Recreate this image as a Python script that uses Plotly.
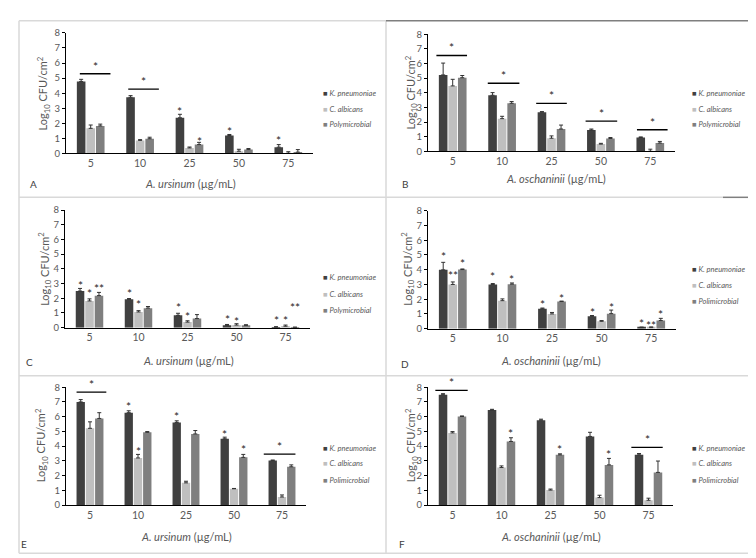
import plotly.graph_objects as go

W, H = 756, 558

conc = ['5', '10', '25', '50', '75']
colors = ['#404040', '#bfbfbf', '#7f7f7f']

# Panel A - A. ursinum
a_kp = [4.78, 3.73, 2.37, 1.19, 0.42]
a_kp_err = [0.14, 0.11, 0.23, 0.07, 0.17]
a_ca = [1.67, 0.87, 0.37, 0.15, 0.02]
a_ca_err = [0.22, 0.05, 0.06, 0.13, 0.10]
a_pm = [1.83, 0.98, 0.59, 0.26, 0.09]
a_pm_err = [0.12, 0.10, 0.15, 0.07, 0.17]

# Panel B - A. oschaninii
b_kp = [5.22, 3.83, 2.67, 1.45, 0.94]
b_kp_err = [0.81, 0.18, 0.04, 0.07, 0.04]
b_ca = [4.47, 2.23, 0.89, 0.49, 0.00]
b_ca_err = [0.45, 0.16, 0.16, 0.05, 0.14]
b_pm = [5.03, 3.28, 1.52, 0.87, 0.56]
b_pm_err = [0.15, 0.12, 0.27, 0.07, 0.11]

# Panel C - A. ursinum
c_kp = [2.49, 1.93, 0.84, 0.16, 0.03]
c_kp_err = [0.18, 0.05, 0.14, 0.06, 0.04]
c_ca = [1.82, 1.07, 0.38, 0.18, 0.10]
c_ca_err = [0.14, 0.09, 0.09, 0.09, 0.08]
c_pm = [2.18, 1.33, 0.62, 0.16, 0.02]
c_pm_err = [0.22, 0.11, 0.27, 0.04, 0.02]

# Panel D - A. oschaninii
d_kp = [3.99, 3.00, 1.35, 0.84, 0.07]
d_kp_err = [0.51, 0.06, 0.05, 0.05, 0.04]
d_ca = [3.00, 1.90, 1.00, 0.50, 0.07]
d_ca_err = [0.17, 0.12, 0.10, 0.05, 0.05]
d_pm = [4.01, 3.02, 1.84, 1.02, 0.55]
d_pm_err = [0.04, 0.08, 0.03, 0.24, 0.15]

# Panel E - A. ursinum
e_kp = [7.00, 6.27, 5.61, 4.50, 3.02]
e_kp_err = [0.16, 0.13, 0.11, 0.11, 0.04]
e_ca = [5.21, 3.20, 1.51, 1.11, 0.55]
e_ca_err = [0.44, 0.24, 0.11, 0.02, 0.14]
e_pm = [5.88, 4.94, 4.83, 3.24, 2.60]
e_pm_err = [0.39, 0.05, 0.23, 0.20, 0.13]

# Panel F - A. oschaninii
f_kp = [7.49, 6.45, 5.76, 4.66, 3.41]
f_kp_err = [0.07, 0.05, 0.07, 0.28, 0.09]
f_ca = [4.90, 2.55, 1.02, 0.51, 0.33]
f_ca_err = [0.09, 0.11, 0.07, 0.16, 0.14]
f_pm = [6.01, 4.32, 3.41, 2.73, 2.22]
f_pm_err = [0.04, 0.25, 0.07, 0.44, 0.77]

# significance: bracket lines (category, y, left, right) and stars (category, series, y, text)
a_lines = [(0, 5.29, -0.22, 0.40), (1, 4.27, -0.24, 0.38)]
a_stars = [(2, 0, 3.0, '*'), (2, 2, 1.02, '*'), (3, 0, 1.67, '*'), (4, 0, 1.06, '*')]
b_lines = [(0, 6.55, -0.33, 0.29), (1, 4.65, -0.29, 0.35), (2, 3.28, -0.31, 0.31),
           (3, 2.06, -0.31, 0.33), (4, 1.47, -0.27, 0.35)]
b_stars = []
c_lines = []
c_stars = [(0, 0, 3.1, '*'), (0, 1, 2.5, '*'), (0, 2, 2.84, '**'), (1, 0, 2.56, '*'),
           (1, 1, 1.78, '*'), (2, 0, 1.56, '*'), (2, 1, 0.96, '*'), (3, 0, 0.78, '*'),
           (3, 1, 0.6, '*'), (4, 0, 0.71, '*'), (4, 1, 0.71, '*'), (4, 2, 1.56, '**')]
d_lines = []
d_stars = [(0, 0, 5.12, '*'), (0, 1, 3.84, '**'), (0, 2, 4.61, '*'), (1, 0, 3.72, '*'),
           (1, 2, 3.57, '*'), (2, 0, 1.84, '*'), (2, 2, 2.28, '*'), (3, 0, 1.33, '*'),
           (3, 2, 1.62, '*'), (4, 0, 0.58, '*'), (4, 1, 0.44, '**'), (4, 2, 1.17, '*')]
e_lines = [(0, 7.67, -0.28, 0.34), (4, 3.46, -0.38, 0.28)]
e_stars = [(1, 0, 6.87, '*'), (1, 1, 3.84, '*'), (2, 0, 6.23, '*'), (3, 0, 5.01, '*'),
           (3, 2, 3.99, '*')]
f_lines = [(0, 7.78, -0.35, 0.31), (4, 3.92, -0.35, 0.29)]
f_stars = [(1, 2, 5.06, '*'), (2, 2, 4.01, '*'), (3, 2, 3.66, '*')]

panels = [
    dict(letter='A', vals=[a_kp, a_ca, a_pm], errs=[a_kp_err, a_ca_err, a_pm_err],
         plant='A. ursinum', mixed='Polymicrobial', lines=a_lines, stars=a_stars),
    dict(letter='B', vals=[b_kp, b_ca, b_pm], errs=[b_kp_err, b_ca_err, b_pm_err],
         plant='A. oschaninii', mixed='Polymicrobial', lines=b_lines, stars=b_stars),
    dict(letter='C', vals=[c_kp, c_ca, c_pm], errs=[c_kp_err, c_ca_err, c_pm_err],
         plant='A. ursinum', mixed='Polymicrobial', lines=c_lines, stars=c_stars),
    dict(letter='D', vals=[d_kp, d_ca, d_pm], errs=[d_kp_err, d_ca_err, d_pm_err],
         plant='A. oschaninii', mixed='Polimicrobial', lines=d_lines, stars=d_stars),
    dict(letter='E', vals=[e_kp, e_ca, e_pm], errs=[e_kp_err, e_ca_err, e_pm_err],
         plant='A. ursinum', mixed='Polimicrobial', lines=e_lines, stars=e_stars),
    dict(letter='F', vals=[f_kp, f_ca, f_pm], errs=[f_kp_err, f_ca_err, f_pm_err],
         plant='A. oschaninii', mixed='Polimicrobial', lines=f_lines, stars=f_stars),
]

# pixel boxes for each panel (x range of axis, y of 8 and 0, titles, letter, legend)
boxes = [
    dict(x=(58, 305), y=(19.3, 142.3), yt=(35, 81), xt=(182, 173), lt=(25, 173), lg=(313, [81, 97, 113])),
    dict(x=(420, 667), y=(20.7, 140), yt=(403, 80), xt=(548, 168), lt=(397, 173), lg=(682, [81, 97, 113])),
    dict(x=(57, 302), y=(200, 320), yt=(37, 260), xt=(180, 353), lt=(21, 355), lg=(313, [269, 286, 302])),
    dict(x=(420, 668), y=(200.7, 321), yt=(400, 260), xt=(543, 353), lt=(397, 357), lg=(682, [261, 277, 293])),
    dict(x=(58, 298), y=(380.7, 501), yt=(33, 440), xt=(178, 533), lt=(16, 541), lg=(313, [443, 459, 476])),
    dict(x=(420, 665), y=(380.7, 501), yt=(403, 440), xt=(543, 533), lt=(394, 541), lg=(682, [443, 459, 476])),
]

FONT = 'Lato, Open Sans, sans-serif'
GRAY = '#595959'
BARGAP = 0.42
slot = (1 - BARGAP) / 3


def px(v):
    return v / W


def py(v):
    return 1 - v / H


def label(x, y, text, size, color=GRAY, **kw):
    d = dict(x=px(x), y=py(y), xref='paper', yref='paper', showarrow=False,
             xanchor='center', yanchor='middle', text=text,
             font=dict(family=FONT, size=size, color=color))
    d.update(kw)
    return d


fig = go.Figure()
annotations = []
shapes = []
layout = {}

for i, (p, b) in enumerate(zip(panels, boxes), start=1):
    sfx = '' if i == 1 else str(i)
    xa, ya = 'x' + sfx, 'y' + sfx
    names = ['K. pneumoniae', 'C. albicans', p['mixed']]
    for s in range(3):
        fig.add_trace(go.Bar(
            x=conc, y=p['vals'][s], name=names[s],
            marker=dict(color=colors[s], line=dict(width=0)),
            error_y=dict(type='data', symmetric=False, array=p['errs'][s],
                         arrayminus=[0] * 5, color='#333333', thickness=1, width=2),
            xaxis=xa, yaxis=ya, showlegend=False,
        ))
    layout['xaxis' + sfx] = dict(
        domain=[px(b['x'][0]), px(b['x'][1])], anchor=ya, type='category',
        showline=True, linecolor='#000000', linewidth=1.3, ticks='',
        tickfont=dict(family=FONT, size=10.5, color=GRAY), showgrid=False, fixedrange=True,
    )
    layout['yaxis' + sfx] = dict(
        domain=[py(b['y'][1]), py(b['y'][0])], anchor=xa, range=[0, 8], dtick=1,
        showline=True, linecolor='#000000', linewidth=1, ticks='outside', ticklen=3,
        tickcolor='#000000', tickfont=dict(family=FONT, size=9.5, color=GRAY),
        showgrid=False, zeroline=False, fixedrange=True,
    )
    # axis titles and panel letter
    annotations.append(label(b['yt'][0], b['yt'][1], 'Log<sub>10</sub> CFU/cm<sup>2</sup>',
                             11, textangle=-90))
    annotations.append(label(b['xt'][0], b['xt'][1], '<i>%s</i> (µg/mL)' % p['plant'], 11))
    annotations.append(label(b['lt'][0], b['lt'][1], p['letter'], 10, color='#404040'))
    # legend
    for s in range(3):
        annotations.append(label(
            b['lg'][0], b['lg'][1][s],
            '<span style="color:%s">■</span> <i>%s</i>' % (colors[s], names[s]),
            7.5, xanchor='left'))
    # significance brackets and stars
    for cat, yv, x0, x1 in p['lines']:
        shapes.append(dict(type='line', xref=xa, yref=ya, x0=cat + x0, x1=cat + x1,
                           y0=yv, y1=yv, line=dict(color='#000000', width=1.3)))
        annotations.append(dict(x=cat + (x0 + x1) / 2, y=yv, xref=xa, yref=ya,
                                yanchor='bottom', yshift=-2, showarrow=False, text='*',
                                font=dict(family=FONT, size=12, color='#262626')))
    for cat, s, yv, txt in p['stars']:
        annotations.append(dict(x=cat + (s - 1) * slot, y=yv, xref=xa, yref=ya,
                                yanchor='middle', yshift=-3, showarrow=False, text=txt,
                                font=dict(family=FONT, size=12, color='#262626')))

# panel frames
light = '#d9d9d9'
dark = '#7f7f7f'
frame = [
    (11, 7, 11, 550, light), (11, 7, 378, 7, light), (378, 7, 378, 550, light),
    (11, 187, 715, 187, light), (11, 369, 746, 369, light), (11, 550, 747, 550, light),
    (746, 7, 746, 187, light), (378, 7, 756, 7, dark), (715, 187, 746, 187, dark),
    (746, 187, 746, 550, dark),
]
for x0, y0, x1, y1, c in frame:
    shapes.append(dict(type='line', xref='paper', yref='paper', x0=px(x0), y0=py(y0),
                       x1=px(x1), y1=py(y1), line=dict(color=c, width=1.5)))

fig.update_layout(
    width=W, height=H, autosize=False,
    margin=dict(l=0, r=0, t=0, b=0),
    paper_bgcolor='white', plot_bgcolor='white',
    barmode='group', bargap=BARGAP, bargroupgap=0.1,
    showlegend=False,
    annotations=annotations, shapes=shapes,
    **layout
)

fig.write_html('out.html')
